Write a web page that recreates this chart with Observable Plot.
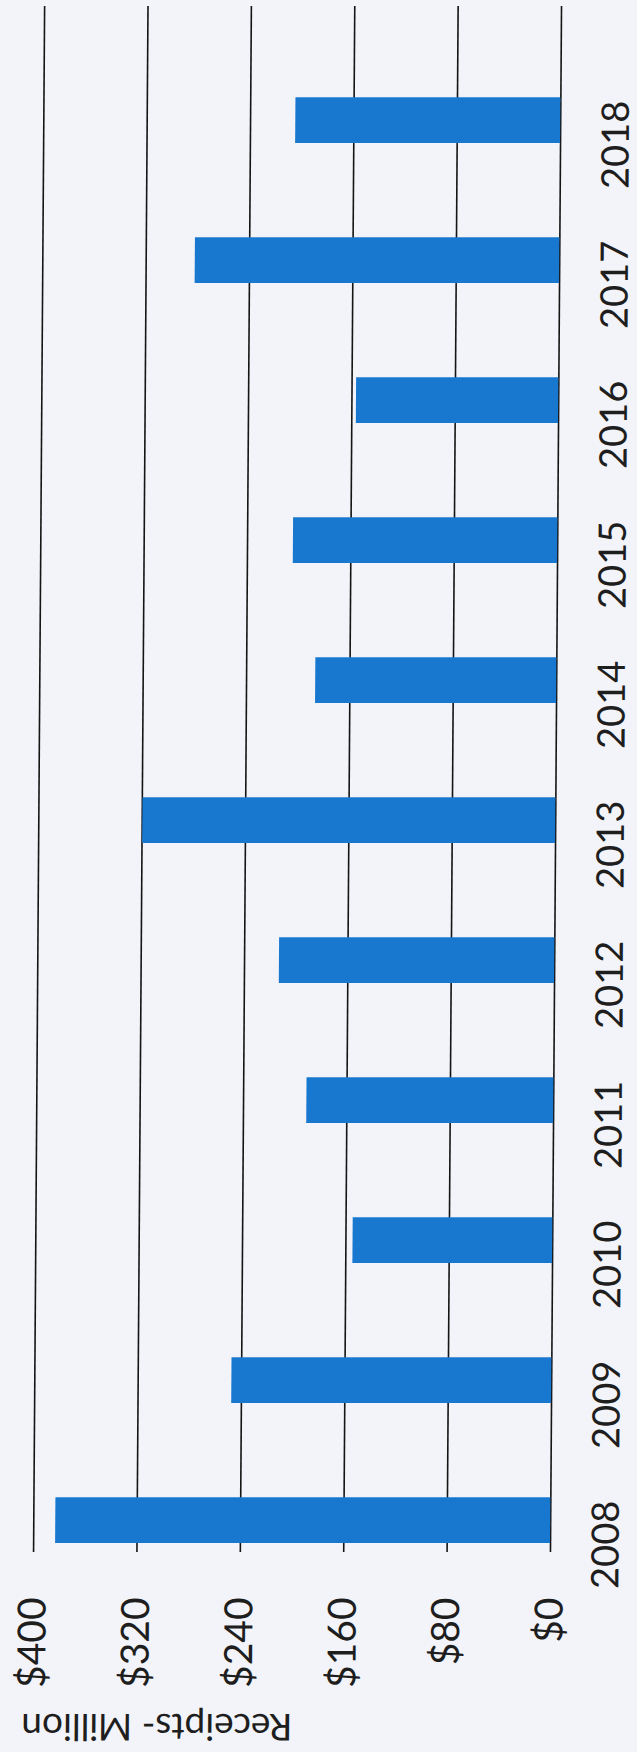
<!DOCTYPE html>
<html>
<head>
<meta charset="utf-8">
<script src="https://cdn.jsdelivr.net/npm/d3@7"></script>
<script src="https://cdn.jsdelivr.net/npm/@observablehq/plot@0.6"></script>
<style>
  html, body { margin: 0; padding: 0; background: #f3f4f9; }
  #page { position: relative; width: 637px; height: 1752px; overflow: hidden; background: #f3f4f9; }
  #shear { position: absolute; left: 0; top: 0; width: 637px; height: 1752px; transform-origin: 300px 876px; transform: skewX(-0.41deg); }
  #chart { position: absolute; left: 0; top: 0; width: 1752px; height: 637px; transform-origin: 0 0; transform: translate(0px, 1752px) rotate(-90deg); }
</style>
</head>
<body>
<div id="page"><div id="shear"><div id="chart"></div></div></div>
<script>
const years = ["2008", "2009", "2010", "2011", "2012", "2013", "2014", "2015", "2016", "2017", "2018"];
const receipts = [383, 247.5, 154.5, 191, 213, 319.5, 186.5, 204.5, 156.5, 282, 205];
const valueTicks = [0, 80, 160, 240, 320, 400];
const yTitle = "Receipts- Million";

const data = years.map((year, i) => ({year, value: receipts[i]}));

const chart = Plot.plot({
  width: 1752,
  height: 637,
  marginLeft: 200,
  marginRight: 6,
  marginTop: 37.9,
  marginBottom: 82.2,
  style: {background: "transparent", fontFamily: "Lato, 'Open Sans', sans-serif", color: "#1e1e1e"},
  x: {type: "band", domain: years, range: [203, 1750.7], padding: 0, axis: null},
  y: {domain: [0, 400], range: [554.8, 37.9], axis: null},
  marks: [
    Plot.ruleY(valueTicks, {stroke: "#151515", strokeWidth: 1.6}),
    Plot.barY(data, {x: "year", y: "value", fill: "#1877cf", insetLeft: 2, insetRight: 92.2}),
    Plot.text(valueTicks, {y: d => d, text: d => "$" + d, frameAnchor: "left", textAnchor: "end", dx: -46, fontSize: 39, lineAnchor: "middle", fill: "#1e1e1e"}),
    Plot.text(data, {x: "year", text: "year", frameAnchor: "bottom", dy: 56, dx: -70.35, fontSize: 38, textAnchor: "middle", lineAnchor: "middle", fill: "#1e1e1e"}),
    Plot.text([yTitle], {text: d => d, frameAnchor: "top-left", dx: -174, dy: 124.6, rotate: -90, fontSize: 37, textAnchor: "middle", lineAnchor: "middle", fill: "#1e1e1e"})
  ]
});
document.getElementById("chart").appendChild(chart);
</script>
</body>
</html>
